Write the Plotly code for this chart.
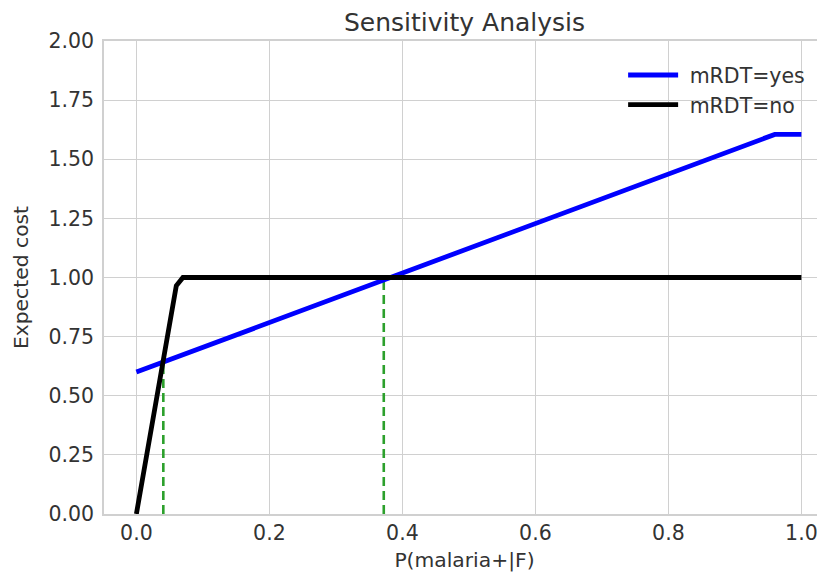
import plotly.graph_objects as go

# Data
p_yes = [0.0, 0.95, 0.96, 1.0]
cost_yes = [0.60, 1.598, 1.605, 1.605]
p_no = [0.0, 0.06, 0.07, 1.0]
cost_no = [0.0, 0.965, 1.0, 1.0]
threshold_x = [0.0405, 0.372]
threshold_y = [0.64, 1.0]

x_ticks = [0.0, 0.2, 0.4, 0.6, 0.8, 1.0]
y_ticks = [0.0, 0.25, 0.5, 0.75, 1.0, 1.25, 1.5, 1.75, 2.0]

FONT = "DejaVu Sans"
TXT = "#333333"
GRID = "#d0d0d0"

fig = go.Figure()
for tx, ty in zip(threshold_x, threshold_y):
    fig.add_trace(go.Scatter(x=[tx, tx], y=[0, ty], mode="lines",
                             line=dict(color="#2ca02c", width=2.6, dash="9px,5px"),
                             showlegend=False, hoverinfo="skip"))
fig.add_trace(go.Scatter(x=p_yes, y=cost_yes, mode="lines", name="\u00a0mRDT=yes",
                         line=dict(color="#0000ff", width=4.8)))
fig.add_trace(go.Scatter(x=p_no, y=cost_no, mode="lines", name="\u00a0mRDT=no",
                         line=dict(color="#000000", width=4.8)))

# page body has an 8px margin, so the figure is offset by 8px in the window
H = 566
fig.update_layout(
    width=817, height=H,
    margin=dict(l=96, r=0, t=33, b=H - 506),
    paper_bgcolor="white", plot_bgcolor="white",
    font=dict(family=FONT, size=20, color=TXT),
    title=dict(text="Sensitivity Analysis", x=0.5, xref="paper", xanchor="center",
               yref="container", y=1 - 14 / H, yanchor="middle",
               font=dict(size=25, color=TXT)),
    xaxis=dict(range=[-0.0487, 1.0355], tickvals=x_ticks, tickformat=".1f",
               showgrid=True, gridcolor=GRID, gridwidth=1.3, zeroline=False,
               showline=True, linecolor=GRID, linewidth=1.5, mirror=True,
               ticks="", ticklen=0,
               title=dict(text="P(malaria+|F)", font=dict(size=20.3), standoff=8),
               tickfont=dict(size=20.5)),
    yaxis=dict(range=[0, 2.0], tickvals=y_ticks, tickformat=".2f",
               showgrid=True, gridcolor=GRID, gridwidth=1.3, zeroline=False,
               showline=True, linecolor=GRID, linewidth=1.5, mirror=False,
               ticks="", ticklen=0, ticklabelstandoff=4,
               title=dict(text="Expected cost", font=dict(size=20.3), standoff=14),
               tickfont=dict(size=20.5)),
    legend=dict(x=0.72, y=0.97, xanchor="left", yanchor="top",
                bgcolor="rgba(0,0,0,0)", font=dict(size=20.5, color=TXT),
                itemwidth=50, tracegroupgap=0),
)

fig.write_html("out.html")
